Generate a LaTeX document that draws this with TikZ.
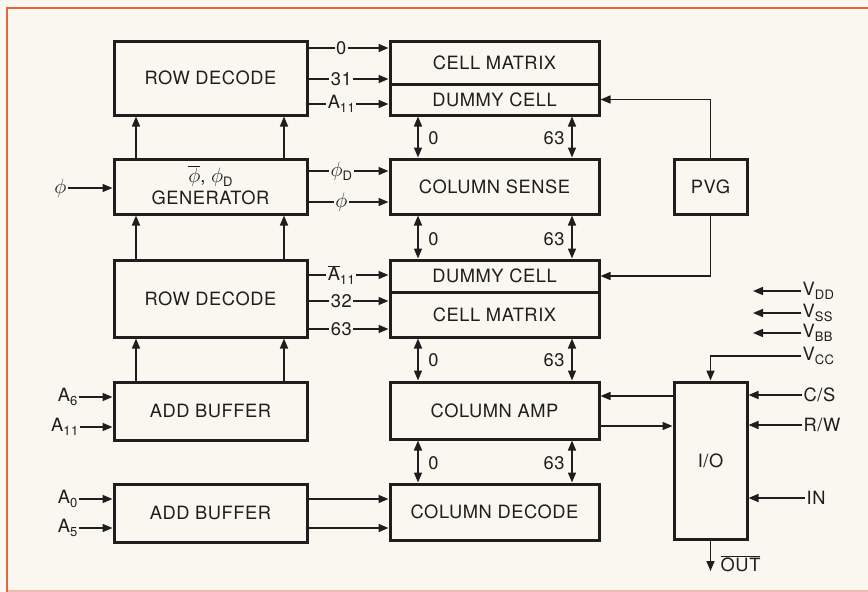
\documentclass[tikz,border=0pt]{standalone}
\usepackage{fontspec}
\setmainfont{TeX Gyre Heros}[LetterSpace=3.0]
\usetikzlibrary{arrows.meta}
\definecolor{bg}{HTML}{FAF7F1}
\definecolor{framec}{HTML}{E8643E}
\definecolor{framelt}{HTML}{F4B9A8}
\definecolor{ink}{HTML}{1E1E1E}
\newcommand{\mysub}[1]{\raisebox{-0.4ex}{\fontsize{13}{13}\selectfont #1}}
\newcommand{\mybar}[1]{$\overline{\hbox{#1}}$}
\newcommand{\myphi}{{\fontsize{21}{21}\selectfont$\phi$}}
\newcommand{\myphibar}{{\fontsize{21}{21}\selectfont$\overline{\phi}$}}
\begin{document}
\begin{tikzpicture}[x=1pt,y=-1pt,
  font=\fontsize{18.3}{20}\selectfont,
  box/.style={draw=ink, line width=3pt, inner sep=0pt, align=center, text=ink},
  arr/.style={draw=ink, line width=1.6pt, -{Triangle[length=10pt,width=8pt]}},
  darr/.style={draw=ink, line width=1.6pt, {Triangle[length=10pt,width=8pt]}-{Triangle[length=10pt,width=8pt]}},
  lbl/.style={fill=bg, inner sep=1.5pt, text=ink},
  txt/.style={inner sep=1.5pt, text=ink}]
\useasboundingbox (0,0) rectangle (868,592);
\fill[bg] (0,0) rectangle (868,592);
\draw[framelt, line width=1.5pt] (7,591) -- (868,591);
\draw[framec, line width=2.6pt] (7,592) -- (7,8) -- (868,8);

% left column
\node[box, minimum width=193pt, minimum height=74pt] (rd1) at (210.5,78) {ROW DECODE};
\node[box, minimum width=193pt, minimum height=55pt] (gen) at (210.5,186.5) {};
\node[txt] (genl1) at (210.5,176) {\myphibar, \myphi\mysub{D}};
\node[txt] (genl2) at (210.5,198) {GENERATOR};
\node[box, minimum width=193pt, minimum height=77pt] (rd2) at (210.5,298.5) {ROW DECODE};
\node[box, minimum width=193pt, minimum height=58pt] (ab1) at (210.5,411) {ADD BUFFER};
\node[box, minimum width=193pt, minimum height=58pt] (ab2) at (210.5,513) {ADD BUFFER};

% right column
\node[box, minimum width=209pt, minimum height=43pt] (cm1) at (494.5,62.5) {CELL MATRIX};
\node[box, minimum width=209pt, minimum height=31pt] (dc1) at (494.5,99.5) {DUMMY CELL};
\node[box, minimum width=209pt, minimum height=55pt] (cs) at (494.5,186.5) {COLUMN SENSE};
\node[box, minimum width=209pt, minimum height=32pt] (dc2) at (494.5,276) {DUMMY CELL};
\node[box, minimum width=209pt, minimum height=45pt] (cm2) at (494.5,314.5) {CELL MATRIX};
\node[box, minimum width=209pt, minimum height=57pt] (ca) at (494.5,410.5) {COLUMN AMP};
\node[box, minimum width=209pt, minimum height=56pt] (cd) at (494.5,512) {COLUMN DECODE};

% PVG and I/O
\node[box, minimum width=73pt, minimum height=55pt] (pvg) at (710.5,186.5) {PVG};
\node[box, minimum width=73pt, minimum height=157pt] (io) at (710.5,460.5) {I/O};

% left vertical arrows
\foreach \xx in {136,284} {
  \draw[arr] (gen.north -| \xx,0) -- (rd1.south -| \xx,0);
  \draw[arr] (rd2.north -| \xx,0) -- (gen.south -| \xx,0);
  \draw[arr] (ab1.north -| \xx,0) -- (rd2.south -| \xx,0);
}

% row decode 1 outputs
\draw[arr] (rd1.east |- 0,48) -- (cm1.west |- 0,48) node[pos=0.41, lbl] {0};
\draw[arr] (rd1.east |- 0,79) -- (cm1.west |- 0,79) node[pos=0.41, lbl] {31};
\draw[arr] (rd1.east |- 0,104) -- (dc1.west |- 0,104) node[pos=0.41, lbl] {A\mysub{11}};
% generator outputs
\draw[arr] (gen.east |- 0,171) -- (cs.west |- 0,171) node[pos=0.41, lbl] {\myphi\mysub{D}};
\draw[arr] (gen.east |- 0,202) -- (cs.west |- 0,202) node[pos=0.41, lbl] {\myphi};
% row decode 2 outputs
\draw[arr] (rd2.east |- 0,275) -- (dc2.west |- 0,275) node[pos=0.41, lbl] {\mybar{A}\mysub{11}};
\draw[arr] (rd2.east |- 0,301) -- (cm2.west |- 0,301) node[pos=0.41, lbl] {32};
\draw[arr] (rd2.east |- 0,329) -- (cm2.west |- 0,329) node[pos=0.41, lbl] {63};
% add buffer 2 outputs
\draw[arr] (ab2.east |- 0,499) -- (cd.west |- 0,499);
\draw[arr] (ab2.east |- 0,528) -- (cd.west |- 0,528);

% bidirectional buses
\draw[darr] (dc1.south -| 418,0) -- (cs.north -| 418,0);
\draw[darr] (dc1.south -| 572,0) -- (cs.north -| 572,0);
\draw[darr] (cs.south -| 418,0) -- (dc2.north -| 418,0);
\draw[darr] (cs.south -| 572,0) -- (dc2.north -| 572,0);
\draw[darr] (cm2.south -| 418,0) -- (ca.north -| 418,0);
\draw[darr] (cm2.south -| 572,0) -- (ca.north -| 572,0);
\draw[darr] (ca.south -| 418,0) -- (cd.north -| 418,0);
\draw[darr] (ca.south -| 572,0) -- (cd.north -| 572,0);
\foreach \yy/\nm in {138/a,239/b,360/c,463/d} {
  \node[txt] (z\nm) at (433.5,\yy) {0};
  \node[txt] (s\nm) at (554,\yy) {63};
}

% PVG connections
\draw[arr] (pvg.north) |- (dc1.east);
\draw[arr] (pvg.south) |- (dc2.east);

% left inputs
\node[txt, anchor=east] (phi) at (68,188) {\myphi};
\draw[arr] (phi.east) -- (gen.west |- phi.east);
\node[txt, anchor=east] (a6) at (79,397) {A\mysub{6}};
\node[txt, anchor=east] (a11) at (80,427) {A\mysub{11}};
\node[txt, anchor=east] (a0) at (79,499) {A\mysub{0}};
\node[txt, anchor=east] (a5) at (79,528) {A\mysub{5}};
\foreach \nm in {a6,a11} \draw[arr] (\nm.east) -- (ab1.west |- \nm.east);
\foreach \nm in {a0,a5} \draw[arr] (\nm.east) -- (ab2.west |- \nm.east);

% I/O <-> column amp
\draw[arr] (io.west |- 0,396) -- (ca.east |- 0,396);
\draw[arr] (ca.east |- 0,426) -- (io.west |- 0,426);

% supply labels
\node[txt, anchor=west] (vdd) at (801,291) {V\mysub{DD}};
\node[txt, anchor=west] (vss) at (801,313) {V\mysub{SS}};
\node[txt, anchor=west] (vbb) at (801,333) {V\mysub{BB}};
\node[txt, anchor=west] (vcc) at (801,356) {V\mysub{CC}};
\coordinate (edd) at (753,291);
\coordinate (ess) at (753,313);
\coordinate (ebb) at (753,333);
\draw[arr] (vdd.west) -- (edd);
\draw[arr] (vss.west) -- (ess);
\draw[arr] (vbb.west) -- (ebb);
\draw[arr] (vcc.west) -| (io.north);

% control inputs
\node[txt, anchor=west] (csl) at (802,395) {C/S};
\node[txt, anchor=west] (rwl) at (802,425) {R/W};
\node[txt, anchor=west] (inl) at (805,498) {IN};
\foreach \nm in {csl,rwl,inl} \draw[arr] (\nm.west) -- (io.east |- \nm.west);

% output
\coordinate (oute) at (710.5,571);
\draw[arr] (io.south) -- (oute);
\node[txt, anchor=west] (outl) at (719,564) {\mybar{OUT}};
\end{tikzpicture}
\end{document}
